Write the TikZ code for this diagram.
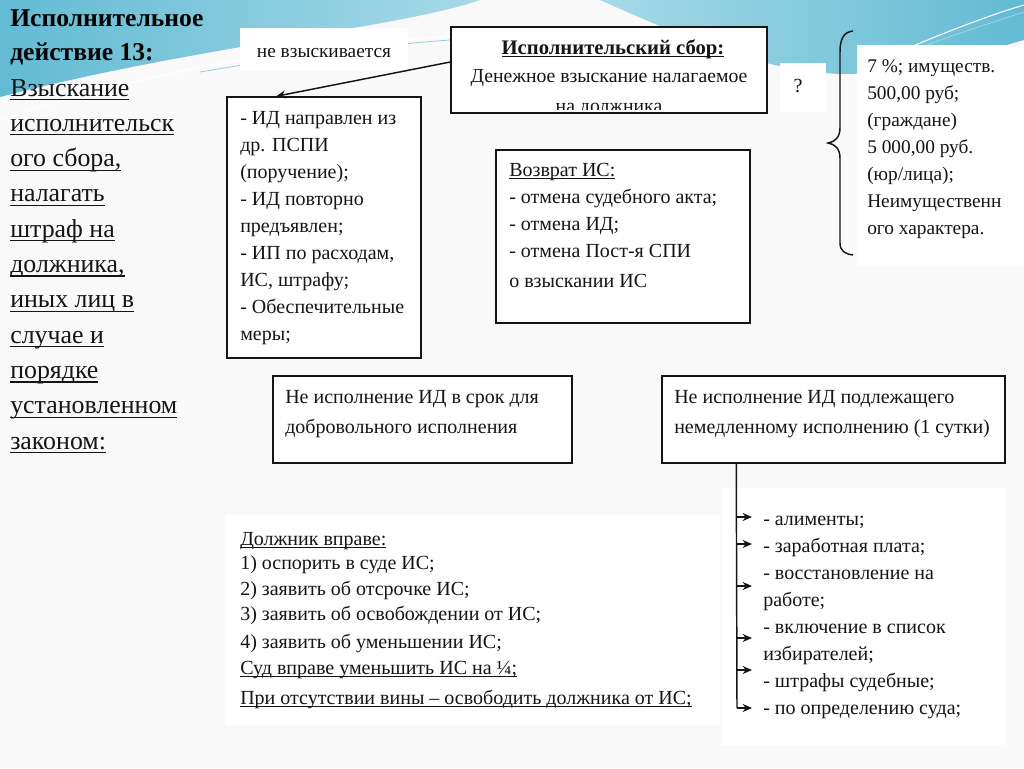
\documentclass[tikz,border=0pt]{standalone}
\usepackage{fontspec}
\setmainfont{Liberation Serif}
\usetikzlibrary{arrows.meta,calc,fit}
\newcommand{\myul}[1]{\setbox0\hbox{#1}\leavevmode\rlap{\rule[-0.16em]{\wd0}{0.9pt}}\box0}
\definecolor{skyA}{HTML}{A6D9E8}
\definecolor{skyB}{HTML}{62BBD3}
\definecolor{ink}{HTML}{151515}
\definecolor{paper}{HTML}{F9F9F9}
\tikzset{
  frame/.style={draw=ink, line width=1.1pt, fill=white, inner sep=0pt},
  pad/.style={fill=white, draw=none, inner sep=0pt},
  txt/.style={anchor=base west, inner sep=0pt, text=ink, font=\fontsize{15}{17}\selectfont},
  bigtxt/.style={anchor=base west, inner sep=0pt, text=ink, font=\fontsize{19.4}{21}\selectfont},
  ttl/.style={anchor=base west, inner sep=0pt, text=black, font=\bfseries\fontsize{19.2}{21}\selectfont},
  link/.style={draw=ink, line width=1.1pt, -{Stealth[length=7pt,width=6pt]}},
  brace/.style={draw=ink, line width=1.1pt}
}
\begin{document}
\begin{tikzpicture}[x=0.75pt,y=-0.75pt]
\useasboundingbox (0,0) rectangle (1024,768);
% background
\fill[paper] (0,0) rectangle (1024,768);
\shade[left color=skyB, right color=skyA] (0,0) -- (480,0) .. controls (400,28) and (200,45) .. (0,97) -- cycle;
\shade[left color=skyA, right color=skyB] (600,0) .. controls (690,40) and (760,70) .. (840,74) .. controls (920,74) and (980,52) .. (1024,40) -- (1024,0) -- cycle;
\draw[white, line width=0.8pt] (0,120) .. controls (150,70) and (300,45) .. (470,35);
\draw[skyB!70, line width=0.6pt] (200,72) .. controls (300,55) and (380,45) .. (450,40);
\draw[white, line width=0.8pt] (880,60) .. controls (950,30) and (990,15) .. (1024,5);
\draw[skyB!60, line width=0.6pt] (900,55) .. controls (960,32) and (1000,20) .. (1024,12);

% title column
\node[ttl] (t1) at (10,26) {Исполнительное};
\node[ttl] (t2) at (10,60) {действие 13:};
\foreach \s [count=\i] in {Взыскание,исполнительск,{ого сбора,},налагать,штраф на,{должника,},иных лиц в,случае и,порядке,установленном,законом:}
  \node[bigtxt] (c\i) at (10,{96+35.3*(\i-1)}) {\myul{\s}};

% "не взыскивается"
\node[pad, fit={(240,28)(408,70)}] (nv) {};
\node[anchor=base, inner sep=0pt, text=ink, font=\fontsize{14.5}{16}\selectfont] (nvt) at (324,57) {не взыскивается};

% main box
\node[frame, fit={(451,27)(767,113)}] (isb) {};
\node[anchor=base, inner sep=0pt, text=ink, font=\bfseries\fontsize{15.5}{17}\selectfont] (isb1) at (613,54) {\myul{Исполнительский сбор:}};
\node[anchor=base, inner sep=0pt, text=ink, font=\fontsize{14.8}{17}\selectfont] (isb2) at (609,82) {Денежное взыскание налагаемое};
\begin{scope}
  \clip (452,28) rectangle (766,109);
  \node[anchor=base, inner sep=0pt, text=ink, font=\fontsize{14.8}{17}\selectfont] (isb3) at (609,112) {на должника};
\end{scope}

% left list box
\node[frame, fit={(227,97)(421,358)}] (ida) {};
\foreach \s [count=\i] in {- ИД направлен из,др. ПСПИ,(поручение);,- ИД повторно,предъявлен;,{- ИП по расходам,},{ИС, штрафу;},- Обеспечительные,меры;}
  \node[txt] (ida\i) at (240,{124+27*(\i-1)}) {\s};

% arrow
\draw[link] ([yshift=6pt]isb.west) -- ([xshift=37.5pt]ida.north west);

% refund box
\node[frame, fit={(496,150)(750,323)}] (vz) {};
\node[txt] (vz1) at (509,176) {\myul{Возврат ИС:}};
\node[txt] (vz2) at (509,203) {- отмена судебного акта;};
\node[txt] (vz3) at (509,230) {- отмена ИД;};
\node[txt] (vz4) at (509,257) {- отмена Пост-я СПИ};
\node[txt] (vz5) at (509,287) {о взыскании ИС};

% question mark
\node[pad, fit={(780,63)(826,112)}] (q) {};
\node[anchor=base, inner sep=0pt, text=ink, font=\fontsize{15}{17}\selectfont] (qt) at (798,92) {?};

% brace
\draw[brace] (853,31) .. controls (843,32) and (840,40) .. (840,52) -- (840,128)
  .. controls (840,137) and (835,142) .. (828,143)
  .. controls (835,144) and (840,149) .. (840,158) -- (840,243)
  .. controls (840,251) and (845,254) .. (853,255);

% rates
\node[pad, fit={(857,45)(1024,266)}] (rt) {};
\foreach \s [count=\i] in {7 \%; имуществ.,{500,00 руб;},(граждане),{5 000,00 руб.},(юр/лица);,Неимущественн,ого характера.}
  \node[txt, font=\fontsize{14.5}{16}\selectfont] (rt\i) at (867,{72.5+27*(\i-1)}) {\s};

% lower boxes
\node[frame, fit={(273,376)(572,463)}] (ll) {};
\node[txt] (ll1) at (285,403) {Не исполнение ИД в срок для};
\node[txt] (ll2) at (285,433) {добровольного исполнения};
\node[frame, fit={(662,376)(1005,463)}] (lr) {};
\node[txt] (lr1) at (674,403) {Не исполнение ИД подлежащего};
\node[txt] (lr2) at (674,433) {немедленному исполнению (1 сутки)};

% debtor block
\node[pad, fit={(225,515)(720,725)}] (db) {};
\node[txt] (db1) at (240,545) {\myul{Должник вправе:}};
\node[txt] (db2) at (240,569) {1) оспорить в суде ИС;};
\node[txt] (db3) at (240,595) {2) заявить об отсрочке ИС;};
\node[txt] (db4) at (240,620) {3) заявить об освобождении от ИС;};
\node[txt] (db5) at (240,648) {4) заявить об уменьшении ИС;};
\node[txt] (db6) at (240,674) {\myul{Суд вправе уменьшить ИС на ¼;}};
\node[txt] (db7) at (240,704) {\myul{При отсутствии вины – освободить должника от ИС;}};

% immediate list
\node[pad, fit={(722,488)(1005,745)}] (il) {};
\coordinate (trunk) at ([xshift=56.25pt]lr.south west);
\coordinate (tend) at (737,708);
\draw[draw=ink, line width=1.1pt] (trunk) -- (tend);
\foreach \yy [count=\i] in {517,544,586,638,670,708} {
  \coordinate (b\i) at (737,\yy);
  \coordinate (e\i) at (752,\yy);
  \draw[link] (b\i) -- (e\i);
}
\foreach \s [count=\i] in {- алименты;,- заработная плата;,- восстановление на,работе;,- включение в список,избирателей;,- штрафы судебные;,- по определению суда;}
  \node[txt] (il\i) at (763,{525+27*(\i-1)}) {\s};
\end{tikzpicture}
\end{document}
